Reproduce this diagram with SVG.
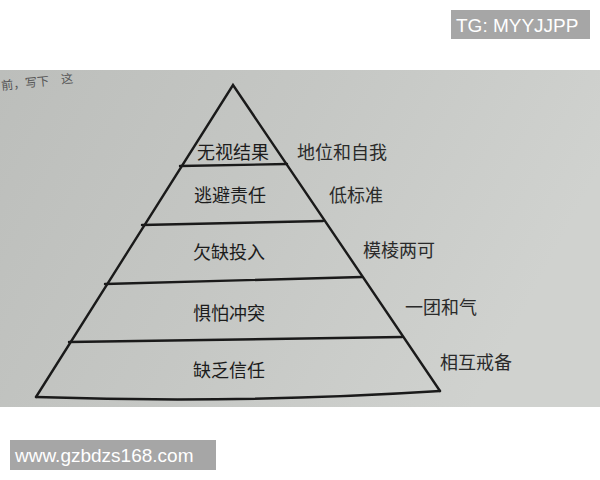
<svg xmlns="http://www.w3.org/2000/svg" width="600" height="480" viewBox="0 0 600 480">
<style>
.lvl{font-family:"Noto Sans CJK SC","Noto Sans",sans-serif;font-size:18px;fill:#1c1c1c;text-anchor:middle}
.side{font-family:"Noto Sans CJK SC","Noto Sans",sans-serif;font-size:18px;fill:#2a2a2a}
.ln{fill:none;stroke:#1a1a1a;stroke-width:2.4;stroke-linecap:round;stroke-linejoin:miter}
.wm{fill:#a6a6a6}
.wmt{font-family:"Liberation Sans","Noto Sans",sans-serif;font-size:19px;fill:#ffffff}
</style>
<defs>
<linearGradient id="paper" x1="0" y1="0" x2="1" y2="0.3">
<stop offset="0" stop-color="#bcbebb"/>
<stop offset="0.5" stop-color="#c5c7c4"/>
<stop offset="1" stop-color="#d0d2cf"/>
</linearGradient>
</defs>
<rect width="600" height="480" fill="#ffffff"/>
<g id="photo-bg">
<rect x="0" y="70" width="600" height="337" fill="url(#paper)"/>
<text x="1" y="88" font-family="Noto Sans CJK SC,sans-serif" font-size="12" fill="#555" transform="rotate(-6 20 82)">前，写下　这</text>
</g>
<g id="connectors">
<path class="ln" d="M36,397 L233,85 L440,391"/>
<path class="ln" d="M36,397 Q238,404 440,391"/>
<line class="ln" x1="180" y1="166" x2="287" y2="164"/>
<line class="ln" x1="142" y1="225" x2="323" y2="221"/>
<line class="ln" x1="105" y1="284" x2="362" y2="277"/>
<line class="ln" x1="69" y1="342" x2="402" y2="337"/>
</g>
<g id="level5"><text class="lvl" x="233" y="158.5">无视结果</text></g>
<g id="level4"><text class="lvl" x="230" y="201.5">逃避责任</text></g>
<g id="level3"><text class="lvl" x="229" y="258.5">欠缺投入</text></g>
<g id="level2"><text class="lvl" x="229" y="319.5">惧怕冲突</text></g>
<g id="level1"><text class="lvl" x="229" y="376.5">缺乏信任</text></g>
<g id="side5"><text class="side" x="297" y="158.5">地位和自我</text></g>
<g id="side4"><text class="side" x="329" y="201.5">低标准</text></g>
<g id="side3"><text class="side" x="363" y="256.5">模棱两可</text></g>
<g id="side2"><text class="side" x="405" y="313.5">一团和气</text></g>
<g id="side1"><text class="side" x="440" y="368.5">相互戒备</text></g>
<g id="watermark-top">
<rect class="wm" x="451" y="10" width="139" height="29"/>
<text class="wmt" x="456" y="31.5">TG: MYYJJPP</text>
</g>
<g id="watermark-bottom">
<rect class="wm" x="10" y="440" width="206" height="30"/>
<text class="wmt" x="15" y="461.5">www.gzbdzs168.com</text>
</g>
</svg>
